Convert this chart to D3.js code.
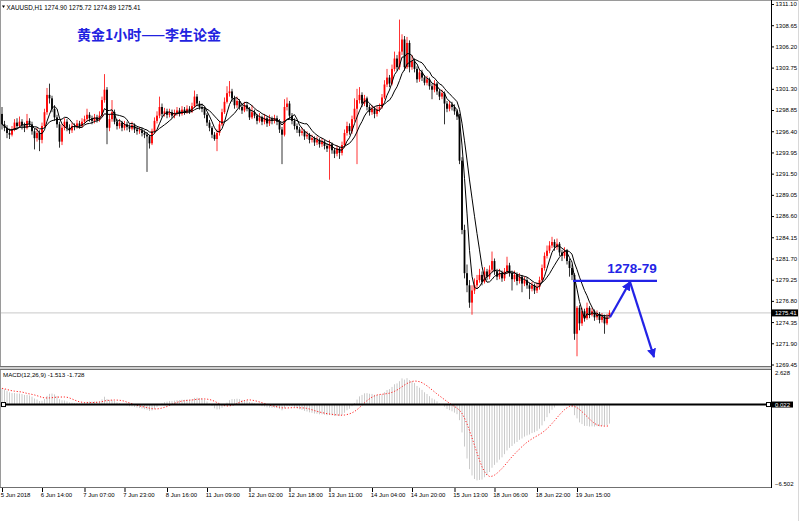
<!DOCTYPE html>
<html><head><meta charset="utf-8">
<script src="https://cdn.jsdelivr.net/npm/d3@7"></script>
<style>body{margin:0;background:#fff}svg{display:block}</style>
</head><body>
<svg id="c" width="799" height="521"></svg>
<script>
// ---------- data (XAUUSD H1) ----------
const firstOpen = 1298.4;
const closes = [
1297.2,1296.8,1296.2,1296.0,1296.6,1297.4,1297.0,1297.5,1297.1,1296.8,
1297.6,1297.2,1296.4,1295.6,1296.2,1295.4,1297.0,1298.6,1300.6,1300.2,
1299.0,1298.0,1297.2,1295.2,1296.8,1297.5,1296.8,1296.5,1297.0,1296.9,
1297.3,1297.0,1297.5,1297.8,1298.3,1297.9,1297.6,1298.0,1297.7,1298.2,
1300.0,1301.2,1296.8,1297.8,1298.6,1297.5,1297.0,1297.4,1296.8,1297.2,
1296.9,1296.7,1297.1,1296.6,1296.4,1296.5,1296.2,1296.0,1295.8,1295.0,
1296.4,1297.6,1298.2,1299.2,1298.4,1298.7,1298.3,1298.6,1298.2,1298.5,
1298.8,1298.4,1298.9,1298.6,1299.0,1298.7,1299.3,1300.4,1299.6,1299.2,
1299.0,1298.3,1297.4,1296.8,1296.0,1295.5,1296.2,1297.2,1298.6,1299.8,
1300.8,1301.0,1300.2,1299.4,1299.9,1299.2,1298.8,1299.4,1299.0,1298.0,
1298.6,1298.2,1297.6,1298.0,1297.5,1297.9,1297.3,1297.8,1297.6,1297.9,
1297.5,1296.6,1296.0,1299.2,1299.6,1298.2,1297.6,1297.0,1296.6,1296.2,
1296.4,1295.8,1296.0,1295.4,1295.6,1295.1,1295.4,1294.9,1295.2,1294.7,
1294.4,1294.9,1294.2,1293.8,1294.4,1293.9,1294.8,1296.2,1297.0,1296.4,
1297.8,1299.0,1300.0,1300.6,1299.6,1300.2,1299.2,1298.6,1299.0,1298.4,
1298.9,1299.2,1300.3,1301.8,1302.6,1301.9,1303.6,1304.8,1303.8,1305.6,
1307.0,1303.8,1306.6,1303.8,1304.5,1303.6,1302.4,1303.2,1302.6,1302.0,
1302.4,1301.6,1301.2,1301.9,1301.0,1300.4,1300.8,1299.6,1299.0,1299.5,
1299.2,1298.7,1298.1,1293.0,1285.0,1280.0,1278.6,1276.6,1278.0,1278.6,
1279.2,1279.8,1279.0,1280.2,1279.6,1280.4,1281.4,1280.2,1279.6,1280.0,
1279.4,1280.2,1280.9,1280.0,1279.3,1279.8,1279.1,1279.6,1278.8,1279.2,
1278.6,1278.2,1278.6,1278.0,1278.4,1279.2,1280.6,1282.0,1282.6,1283.2,
1283.6,1283.0,1283.4,1282.4,1282.0,1282.6,1281.4,1280.6,1279.8,1273.0,
1276.0,1274.2,1275.6,1274.8,1276.0,1275.2,1275.6,1274.9,1275.3,1274.6,
1275.0,1274.2,1274.9,1275.41];
const highs = [
1299.2,1297.6,1297.1,1296.7,1297.0,1297.8,1297.9,1298.1,1297.8,1297.4,
1298.4,1297.9,1297.5,1296.7,1296.8,1296.5,1297.4,1299.0,1301.4,1301.9,
1300.5,1299.4,1298.3,1297.5,1297.2,1297.9,1297.8,1297.2,1297.4,1297.3,
1297.7,1297.6,1297.9,1298.2,1299.0,1298.6,1298.2,1298.4,1298.3,1298.7,
1300.4,1303.0,1301.5,1298.4,1300.0,1298.9,1297.8,1297.8,1297.6,1297.6,
1297.5,1297.2,1297.5,1297.3,1296.9,1296.9,1296.8,1296.5,1296.3,1296.0,
1296.7,1298.0,1298.7,1300.4,1299.6,1299.1,1299.0,1299.0,1298.9,1298.9,
1299.2,1299.1,1299.3,1299.2,1299.4,1299.3,1299.7,1301.1,1300.7,1299.9,
1299.6,1299.2,1298.5,1297.7,1297.0,1296.3,1296.6,1297.6,1299.0,1300.3,
1301.6,1302.2,1301.3,1300.5,1300.4,1300.1,1299.5,1299.8,1299.7,1299.2,
1299.4,1298.9,1298.4,1298.5,1298.2,1298.4,1298.1,1298.3,1298.1,1298.3,
1298.2,1297.8,1296.9,1300.1,1300.3,1299.9,1298.5,1297.9,1297.3,1296.9,
1296.8,1296.6,1296.4,1296.2,1296.0,1295.8,1295.8,1295.6,1295.6,1295.4,
1295.0,1295.4,1295.1,1294.5,1294.8,1294.6,1295.2,1296.6,1297.5,1297.3,
1298.2,1300.2,1301.3,1301.5,1300.9,1300.6,1300.4,1299.5,1299.4,1299.2,
1299.3,1299.6,1300.7,1302.3,1303.6,1302.9,1304.1,1305.6,1305.2,1309.3,
1307.6,1307.4,1307.3,1306.9,1305.2,1304.8,1303.9,1303.6,1303.5,1302.9,
1302.8,1302.6,1301.9,1302.3,1302.1,1301.3,1301.2,1301.0,1299.9,1299.9,
1299.8,1299.5,1298.9,1298.4,1293.4,1285.6,1281.0,1279.2,1278.6,1279.4,
1279.8,1280.5,1280.2,1280.7,1280.5,1280.9,1282.5,1281.7,1280.5,1280.5,
1280.3,1280.6,1281.9,1281.2,1280.3,1280.3,1280.1,1280.0,1279.8,1279.6,
1279.5,1278.9,1279.0,1278.8,1278.9,1279.6,1281.0,1282.4,1283.2,1283.7,
1284.2,1283.9,1284.0,1283.6,1282.7,1283.0,1282.8,1281.7,1281.0,1280.0,
1276.2,1276.3,1276.0,1275.9,1276.6,1276.2,1276.0,1275.8,1275.7,1275.5,
1275.4,1275.2,1275.3,1275.72];
const lows = [
1296.6,1296.4,1295.6,1295.5,1295.8,1296.4,1296.7,1296.8,1296.6,1296.3,
1296.6,1296.9,1296.0,1294.3,1295.2,1294.1,1295.0,1296.8,1298.3,1299.6,
1298.6,1297.6,1296.8,1294.5,1294.8,1296.5,1296.4,1296.1,1296.2,1296.5,
1296.7,1296.7,1296.8,1297.2,1297.6,1297.5,1297.2,1297.3,1297.4,1297.5,
1298.0,1299.7,1294.9,1296.4,1297.5,1297.2,1296.6,1296.7,1296.4,1296.5,
1296.5,1296.3,1296.5,1296.2,1296.0,1296.1,1295.8,1295.6,1291.7,1294.4,
1294.8,1296.1,1297.3,1297.9,1298.0,1298.1,1297.9,1298.0,1297.9,1297.9,
1298.2,1298.1,1298.2,1298.3,1298.4,1298.4,1298.5,1299.1,1299.3,1298.9,
1298.6,1297.9,1297.0,1296.4,1295.6,1295.3,1294.1,1295.9,1297.0,1298.4,
1299.6,1300.4,1299.8,1299.0,1299.1,1298.9,1298.4,1298.6,1298.7,1297.7,
1297.8,1297.9,1297.2,1297.4,1297.1,1297.2,1296.9,1297.0,1297.2,1297.3,
1297.1,1296.2,1292.6,1295.8,1298.8,1297.8,1297.2,1296.6,1296.2,1295.8,
1295.9,1295.4,1295.5,1295.0,1295.1,1294.7,1294.8,1294.5,1294.6,1294.3,
1294.0,1290.8,1293.8,1293.3,1293.5,1293.2,1293.6,1294.5,1295.9,1296.0,
1296.1,1297.5,1292.6,1299.6,1299.2,1299.3,1298.8,1298.2,1298.3,1297.9,
1298.1,1298.6,1299.0,1300.1,1301.5,1301.5,1301.7,1303.3,1303.4,1303.5,
1305.2,1303.4,1303.6,1303.2,1303.5,1303.2,1302.0,1302.1,1302.2,1301.7,
1301.7,1301.2,1300.1,1300.9,1300.6,1300.0,1300.1,1297.2,1298.6,1298.7,
1298.8,1298.3,1297.7,1292.6,1284.5,1279.4,1277.8,1276.0,1275.2,1277.6,
1278.2,1278.9,1278.6,1278.8,1279.2,1279.3,1280.1,1279.8,1279.2,1279.3,
1279.0,1279.1,1279.9,1279.6,1278.0,1279.0,1278.6,1278.8,1277.8,1278.5,
1278.2,1277.0,1277.9,1277.6,1277.7,1278.1,1279.0,1280.3,1281.7,1282.3,
1282.9,1282.6,1282.7,1282.0,1281.4,1281.7,1281.0,1279.6,1279.2,1272.3,
1270.4,1273.4,1273.9,1274.4,1274.6,1274.8,1275.0,1274.5,1274.6,1274.2,
1274.3,1273.0,1274.0,1274.89];

const tickIndex = [0,16,33,49,66,82,99,115,131,148,164,181,197,214,230];
const tickLabels = ["5 Jun 2018","6 Jun 14:00","7 Jun 07:00","7 Jun 23:00","8 Jun 16:00",
  "11 Jun 09:00","12 Jun 02:00","12 Jun 18:00","13 Jun 11:00","14 Jun 04:00",
  "14 Jun 20:00","15 Jun 13:00","18 Jun 06:00","18 Jun 22:00","19 Jun 15:00"];
const priceTicks = [1311.10,1308.65,1306.20,1303.75,1301.30,1298.85,1296.40,1293.95,1291.50,
  1289.05,1286.60,1284.15,1281.70,1279.25,1276.80,1274.35,1271.90,1269.45];
const macdTicks = [2.628,-6.502];
const emaSeedOffsets = [0.8, 2.2];   // EMA12 / EMA26 below first close at left edge (MACD ~1.4 there)
const lastPrice = 1275.41;
const zeroLevel = 0.022;
const maPeriods = [5,10];
const targetLevel = 1279.1;
const targetSpan = [228.4, 262];
const arrowPts = [[243.2,1274.9],[251.2,1279.0],[260.8,1270.3]];
const headerText = "XAUUSD,H1  1274.90 1275.72 1274.89 1275.41";
const macdText = "MACD(12,26,9) -1.513 -1.728";
const title = "黄金1小时——李生论金";
const targetText = "1278-79";

// ---------- scales ----------
const svg = d3.select("#c");
const AX = 771;
const x = d3.scaleLinear().domain([0,243]).range([2,609.5]);
const y = d3.scaleLinear().domain([1269.45,1311.10]).range([364.5,4]);
const ym = d3.scaleLinear().domain([-6.502,2.628]).range([483.5,373]);
const opens = closes.map((c,i)=> i===0 ? firstOpen : closes[i-1]);
const font = "Liberation Sans, Arial, sans-serif";
const BLUE = "#2323e6";

svg.append("rect").attr("width",799).attr("height",521).attr("fill","#fff");
const defs = svg.append("defs");
defs.append("clipPath").attr("id","cm").append("rect").attr("x",1).attr("y",2).attr("width",AX-1).attr("height",364);
defs.append("clipPath").attr("id","cd").append("rect").attr("x",1).attr("y",369.5).attr("width",AX-1).attr("height",117.5);
defs.append("marker").attr("id","ah").attr("viewBox","0 0 10 10").attr("refX",9).attr("refY",5)
  .attr("markerWidth",4.2).attr("markerHeight",4.2).attr("orient","auto").attr("markerUnits","strokeWidth")
  .append("path").attr("d","M0,0L10,5L0,10z").attr("fill",BLUE);

// outer borders
svg.append("line").attr("x1",0.5).attr("x2",0.5).attr("y1",0).attr("y2",488).attr("stroke","#9a9a9a");
svg.append("line").attr("x1",0).attr("x2",799).attr("y1",0.5).attr("y2",0.5).attr("stroke","#9a9a9a");
svg.append("line").attr("x1",798.5).attr("x2",798.5).attr("y1",0).attr("y2",521).attr("stroke","#d8d8d8");
svg.append("rect").attr("x",0).attr("y",366).attr("width",AX).attr("height",3.5).attr("fill","#d0d0d0");
svg.append("line").attr("x1",0).attr("x2",AX).attr("y1",366.5).attr("y2",366.5).attr("stroke","#707070");
svg.append("line").attr("x1",0).attr("x2",AX).attr("y1",369.5).attr("y2",369.5).attr("stroke","#707070");
svg.append("line").attr("x1",0).attr("x2",AX).attr("y1",487.5).attr("y2",487.5).attr("stroke","#707070");

// ---------- main panel ----------
const gm = svg.append("g").attr("clip-path","url(#cm)");
gm.append("line").attr("x1",0).attr("x2",AX).attr("y1",y(lastPrice)).attr("y2",y(lastPrice)).attr("stroke","#c8c8c8");

const bars = gm.append("g").selectAll("g").data(closes).join("g");
bars.append("line")
  .attr("x1",(d,i)=>x(i)).attr("x2",(d,i)=>x(i))
  .attr("y1",(d,i)=>y(highs[i])).attr("y2",(d,i)=>y(lows[i]))
  .attr("stroke",(d,i)=> d>=opens[i] ? "#ff0000" : "#000").attr("stroke-width",0.8);
bars.append("rect")
  .attr("x",(d,i)=>x(i)-0.9).attr("width",1.8)
  .attr("y",(d,i)=>y(Math.max(d,opens[i])))
  .attr("height",(d,i)=>Math.max(0.7, Math.abs(y(d)-y(opens[i]))))
  .attr("fill",(d,i)=> d>=opens[i] ? "#ff0000" : "#000");

maPeriods.forEach(p=>{
  const ma = closes.map((c,i)=> d3.mean(closes.slice(Math.max(0,i-p+1), i+1)));
  gm.append("path").datum(ma)
    .attr("d", d3.line().x((d,i)=>x(i)).y(d=>y(d)))
    .attr("fill","none").attr("stroke","#000").attr("stroke-width",1);
});

// blue annotation
gm.append("line").attr("x1",x(targetSpan[0])).attr("x2",x(targetSpan[1]))
  .attr("y1",y(targetLevel)).attr("y2",y(targetLevel)).attr("stroke",BLUE).attr("stroke-width",2.2);
gm.append("line").attr("x1",x(arrowPts[0][0])).attr("y1",y(arrowPts[0][1]))
  .attr("x2",x(arrowPts[1][0])).attr("y2",y(arrowPts[1][1]))
  .attr("stroke",BLUE).attr("stroke-width",2.2).attr("marker-end","url(#ah)");
gm.append("line").attr("x1",x(arrowPts[1][0])).attr("y1",y(arrowPts[1][1]))
  .attr("x2",x(arrowPts[2][0])).attr("y2",y(arrowPts[2][1]))
  .attr("stroke",BLUE).attr("stroke-width",2.2).attr("marker-end","url(#ah)");
svg.append("text").attr("x",632).attr("y",272.5).attr("text-anchor","middle")
  .attr("font-family",font).attr("font-weight","bold").attr("font-size",13.5)
  .attr("fill",BLUE).text(targetText);

// title + header
svg.append("text").attr("x",77).attr("y",40).attr("font-family","Noto Sans CJK SC, sans-serif")
  .attr("font-weight","bold").attr("font-size",14).attr("fill","#2222e0").text(title);
svg.append("path").attr("d","M2,5.5L5,5.5L3.5,8z").attr("fill","#000");
svg.append("text").attr("x",6.5).attr("y",9.5).attr("font-family",font).attr("font-size",6.3)
  .attr("fill","#000").text(headerText);

// price axis
const pa = svg.append("g").attr("transform",`translate(${AX},0)`)
  .call(d3.axisRight(y).tickValues(priceTicks).tickFormat(d3.format(".2f")).tickSize(3).tickPadding(1.5));
pa.select(".domain").remove();
pa.selectAll("text").attr("font-family",font).attr("font-size",6).attr("fill","#000");
pa.selectAll("line").attr("stroke","#000");
svg.append("line").attr("x1",AX+0.5).attr("x2",AX+0.5).attr("y1",0).attr("y2",488).attr("stroke","#000");
svg.append("rect").attr("x",AX+1).attr("y",y(lastPrice)-3.5).attr("width",26).attr("height",7).attr("fill","#000");
svg.append("text").attr("x",AX+4).attr("y",y(lastPrice)+2.2).attr("font-family",font).attr("font-size",6)
  .attr("fill","#fff").text(lastPrice.toFixed(2));

// ---------- MACD panel ----------
const k12 = 2/13, k26 = 2/27;
let e12 = closes[0]-emaSeedOffsets[0], e26 = closes[0]-emaSeedOffsets[1];
const macd = closes.map(c=>{ e12 += k12*(c-e12); e26 += k26*(c-e26); return e12-e26; });
const signal = macd.map((m,i)=> d3.mean(macd.slice(Math.max(0,i-8), i+1)));
const gd = svg.append("g").attr("clip-path","url(#cd)");
gd.append("g").selectAll("line").data(macd).join("line")
  .attr("x1",(d,i)=>x(i)).attr("x2",(d,i)=>x(i))
  .attr("y1",ym(0)).attr("y2",d=>ym(d)).attr("stroke","#c4c4c4").attr("stroke-width",0.9);
gd.append("path").datum(signal).attr("d", d3.line().x((d,i)=>x(i)).y(d=>ym(d)))
  .attr("fill","none").attr("stroke","#ff2020").attr("stroke-width",1).attr("stroke-dasharray","1.2,1.8");
gd.append("line").attr("x1",0).attr("x2",AX).attr("y1",ym(zeroLevel)).attr("y2",ym(zeroLevel))
  .attr("stroke","#000").attr("stroke-width",2);
svg.append("rect").attr("x",1.5).attr("y",ym(zeroLevel)-2).attr("width",4).attr("height",4)
  .attr("fill","#fff").attr("stroke","#000");
svg.append("rect").attr("x",AX-4.5).attr("y",ym(zeroLevel)-2).attr("width",4).attr("height",4)
  .attr("fill","#fff").attr("stroke","#000");
svg.append("text").attr("x",3).attr("y",377).attr("font-family",font).attr("font-size",6.2)
  .attr("fill","#000").text(macdText);
const ma_ = svg.append("g").attr("transform",`translate(${AX},0)`)
  .call(d3.axisRight(ym).tickValues(macdTicks).tickFormat(d3.format(".3f")).tickSize(0).tickPadding(4));
ma_.select(".domain").remove();
ma_.selectAll("text").attr("font-family",font).attr("font-size",6).attr("fill","#000");
svg.append("rect").attr("x",AX+1).attr("y",ym(zeroLevel)-3).attr("width",21).attr("height",6).attr("fill","#000");
svg.append("text").attr("x",AX+4).attr("y",ym(zeroLevel)+2).attr("font-family",font).attr("font-size",6)
  .attr("fill","#fff").text(zeroLevel.toFixed(3));

// ---------- time axis ----------
const ta = svg.append("g").attr("transform","translate(0,488)")
  .call(d3.axisBottom(x).tickValues(tickIndex).tickFormat((d,i)=>tickLabels[i]).tickSize(4).tickPadding(1));
ta.select(".domain").remove();
ta.selectAll("line").attr("stroke","#000");
ta.selectAll("text").attr("text-anchor","start").attr("dx","-0.3em").attr("font-family",font)
  .attr("font-size",6).attr("fill","#000");
</script>
</body></html>
